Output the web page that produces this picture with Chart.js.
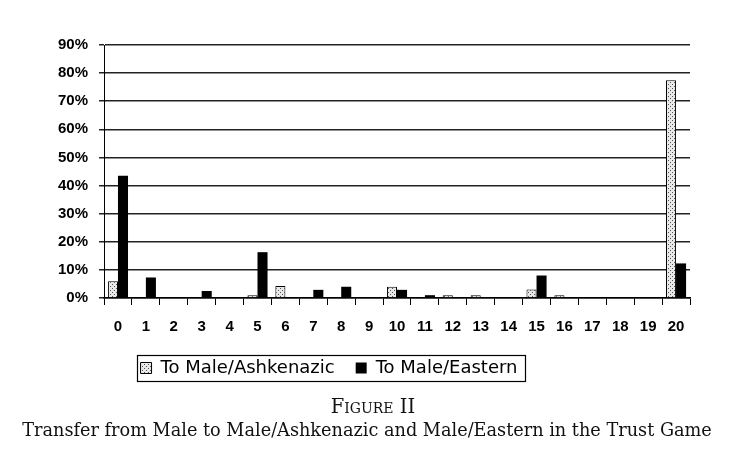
<!DOCTYPE html>
<html>
<head>
<meta charset="utf-8">
<script src="https://cdn.jsdelivr.net/npm/chart.js@4/dist/chart.umd.min.js"></script>
<style>
  html, body { margin: 0; padding: 0; background: #fff; }
  #wrap { position: relative; width: 734px; height: 459px; }
  canvas { position: absolute; left: 0; top: 0; }
  .cap { position: absolute; left: 0; width: 734px; text-align: center; font-family: "DejaVu Serif", serif; color: #111; }
  #fig { top: 395px; left: 6px; font-size: 19.5px; font-variant: small-caps; }
  #ttl { top: 420px; font-size: 17.7px; }
</style>
</head>
<body>
<div id="wrap">
  <canvas id="c" width="734" height="459"></canvas>
  <div class="cap" id="fig">Figure II</div>
  <div class="cap" id="ttl">Transfer from Male to Male/Ashkenazic and Male/Eastern in the Trust Game</div>
</div>
<script>
const categories = ["0","1","2","3","4","5","6","7","8","9","10","11","12","13","14","15","16","17","18","19","20"];
const toAshkenazic = [6, 0, 0, 0, 0, 1, 4.3, 0, 0, 0, 4, 0, 1, 1, 0, 3, 1, 0, 0, 0, 77.5];
const toEastern    = [43.5, 7.3, 0, 2.5, 0, 16.3, 0, 2.9, 4, 0, 2.9, 1, 0, 0, 0, 8, 0, 0, 0, 0, 12.3];
const yTicks = [0, 10, 20, 30, 40, 50, 60, 70, 80, 90];

function stipple() {
  const p = document.createElement('canvas');
  p.width = 4; p.height = 4;
  const g = p.getContext('2d');
  g.fillStyle = '#e8e8e8'; g.fillRect(0, 0, 4, 4);
  g.fillStyle = '#555';
  g.fillRect(0, 0, 1, 1);
  g.fillRect(2, 2, 1, 1);
  return g.createPattern(p, 'repeat');
}
const pat = stipple();

const LEGEND_CENTER_Y = 368;
const legendBox = {
  id: 'legendBox',
  afterLayout(chart) {
    const lg = chart.legend;
    const pad = lg.options.labels.padding;
    const fs = lg.options.labels.font.size;
    const h = lg.bottom - lg.top;
    lg.left = 0; lg.right = 658;
    lg.top = LEGEND_CENTER_Y - pad - fs / 2;
    lg.bottom = lg.top + h;
  },
  afterDraw(chart) {
    const lg = chart.legend;
    const hb = lg.legendHitBoxes;
    if (!hb || !hb.length) return;
    let l = Infinity, r = -Infinity;
    hb.forEach(h => { l = Math.min(l, h.left); r = Math.max(r, h.left + h.width); });
    const c = chart.ctx;
    c.save();
    c.strokeStyle = '#000'; c.lineWidth = 1.2;
    c.strokeRect(Math.round(l) - 3.5, LEGEND_CENTER_Y - 12.5, Math.round(r - l) + 11, 26);
    c.restore();
  }
};

new Chart(document.getElementById('c'), {
  type: 'bar',
  data: {
    labels: categories,
    datasets: [
      { label: 'To Male/Ashkenazic', data: toAshkenazic, backgroundColor: pat, borderColor: '#000', borderWidth: 1 },
      { label: 'To Male/Eastern', data: toEastern, backgroundColor: '#000', borderColor: '#000', borderWidth: 0 }
    ]
  },
  options: {
    responsive: false,
    animation: false,
    devicePixelRatio: 1,
    layout: { padding: { left: 47, right: 44, top: 45, bottom: 61 } },
    datasets: { bar: { categoryPercentage: 0.72, barPercentage: 1.0 } },
    scales: {
      x: {
        grid: { display: true, drawOnChartArea: false, drawTicks: true, tickLength: 7, offset: true, color: '#000', lineWidth: 1 },
        border: { display: true, color: '#000', width: 1.5 },
        ticks: { color: '#000', font: { family: 'Liberation Sans', weight: 'bold', size: 15 }, padding: 13, maxRotation: 0, autoSkip: false }
      },
      y: {
        min: 0, max: 90,
        afterBuildTicks(axis) { axis.ticks = yTicks.map(v => ({ value: v })); },
        grid: { color: '#222', lineWidth: 1.5, drawTicks: true, tickLength: 5 },
        border: { display: true, color: '#000', width: 1 },
        ticks: { color: '#000', font: { family: 'Liberation Sans', weight: 'bold', size: 15 }, padding: 11, callback: v => v + '%' }
      }
    },
    plugins: {
      legend: {
        position: 'bottom',
        labels: { color: '#000', font: { family: 'DejaVu Sans', size: 18 }, boxWidth: 11, boxHeight: 11, padding: 21, useBorderRadius: false }
      },
      tooltip: { enabled: false }
    }
  },
  plugins: [legendBox]
});
</script>
</body>
</html>
